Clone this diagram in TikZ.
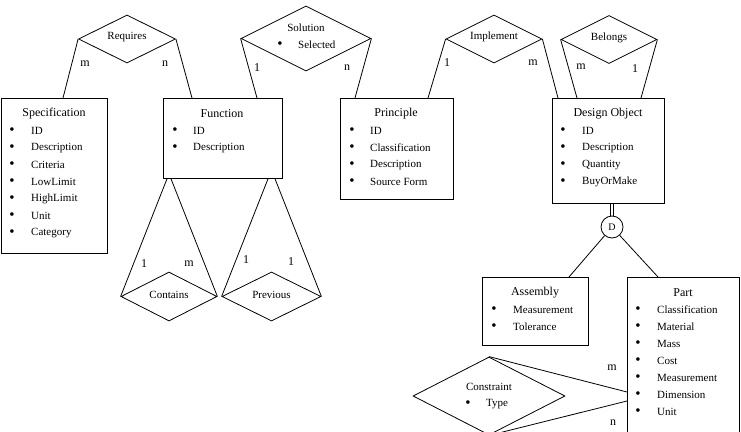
\documentclass[tikz,border=0pt]{standalone}
\usepackage{fontspec}
\setmainfont{Liberation Serif}
\usetikzlibrary{shapes.geometric,calc}
\tikzset{
  ent/.style={draw, line width=0.8pt, rectangle, anchor=north west, inner sep=0pt},
  rel/.style={draw, line width=0.8pt, diamond, inner sep=0pt},
  conn/.style={line width=0.8pt},
  ttl/.style={inner sep=0pt, font=\fontsize{12}{14}\selectfont},
  attr/.style={inner sep=0pt, anchor=west, font=\fontsize{11}{13}\selectfont},
  bul/.style={inner sep=0pt, font=\fontsize{15}{15}\selectfont},
  rlab/.style={inner sep=0pt, font=\fontsize{11}{13}\selectfont},
  card/.style={inner sep=0pt, font=\fontsize{12}{14}\selectfont},
}
\newcommand\attrlist[5]{%
  \foreach \t [count=\i] in {#5} {
    \node[bul] (#1b\i) at (#2, #4+17*\i-17) {\textbullet};
    \node[attr] (#1t\i) at (#3, #4+17*\i-17) {\t};
  }}
\begin{document}
\begin{tikzpicture}[x=1pt,y=-1pt]
\useasboundingbox (0,0) rectangle (741,431);
% entities
\node[ent, minimum width=106pt, minimum height=155pt] (spec) at (1,98) {};
\node[ent, minimum width=119pt, minimum height=80pt] (func) at (163,98) {};
\node[ent, minimum width=113pt, minimum height=101pt] (princ) at (340,98) {};
\node[ent, minimum width=112pt, minimum height=105pt] (dobj) at (552,98) {};
\node[ent, minimum width=106pt, minimum height=68pt] (asm) at (482,277) {};
\node[ent, minimum width=112pt, minimum height=170pt] (part) at (627,277) {};
% titles and attributes
\node[ttl] (spect) at (54,114) {Specification};
\attrlist{spec}{12}{31}{131}{ID,Description,Criteria,LowLimit,HighLimit,Unit,Category}
\node[ttl] (funct) at (222,114) {Function};
\attrlist{func}{175}{193}{131}{ID,Description}
\node[ttl] (princt) at (396,114) {Principle};
\attrlist{princ}{352}{370}{131}{ID,Classification,Description,Source Form}
\node[ttl] (dobjt) at (608,114) {Design Object};
\attrlist{dobj}{563}{582}{131}{ID,Description,Quantity,BuyOrMake}
\node[ttl] (asmt) at (535,293) {Assembly};
\attrlist{asm}{494}{513}{310}{Measurement,Tolerance}
\node[ttl] (partt) at (683,293) {Part};
\attrlist{part}{638}{657}{310}{Classification,Material,Mass,Cost,Measurement,Dimension,Unit}
% relationships
\node[rel, minimum width=97pt, minimum height=48pt] (req) at (127,39) {};
\node[rlab] (reqt) at (127,37) {Requires};
\node[rel, minimum width=130pt, minimum height=65pt] (sol) at (306,38.5) {};
\node[rlab] (solt) at (306,28) {Solution};
\node[bul] (solb) at (280,45) {\textbullet};
\node[attr] (sols) at (298,45) {Selected};
\node[rel, minimum width=96pt, minimum height=48pt] (imp) at (494,39) {};
\node[rlab] (impt) at (494,37) {Implement};
\node[rel, minimum width=96pt, minimum height=48pt] (bel) at (609,39.5) {};
\node[rlab] (belt) at (609,38) {Belongs};
\node[rel, minimum width=96pt, minimum height=49pt] (cont) at (169,296.5) {};
\node[rlab] (contt) at (169,295) {Contains};
\node[rel, minimum width=99pt, minimum height=49pt] (prev) at (271.5,296.5) {};
\node[rlab] (prevt) at (271.5,295) {Previous};
\node[rel, minimum width=152pt, minimum height=78pt] (cons) at (489,396) {};
\node[rlab] (const) at (489,387) {Constraint};
\node[bul] (consb) at (468,404) {\textbullet};
\node[attr] (conss) at (486,404) {Type};
% disjoint circle
\node[draw, line width=0.8pt, circle, minimum size=22pt, inner sep=0pt, font=\fontsize{10}{12}\selectfont] (D) at (612,227) {D};
% connectors
\draw[conn] (req.west) -- ($(spec.north west)+(62,0)$);
\draw[conn] (req.east) -- ($(func.north west)+(29,0)$);
\draw[conn] (sol.west) -- ($(func.north west)+(94,0)$);
\draw[conn] (sol.east) -- ($(princ.north west)+(15,0)$);
\draw[conn] (imp.west) -- ($(princ.north west)+(88,0)$);
\draw[conn] (imp.east) -- ($(dobj.north west)+(6,0)$);
\draw[conn] (bel.west) -- ($(dobj.north west)+(25,0)$);
\draw[conn] (bel.east) -- ($(dobj.north west)+(89,0)$);
\draw[conn] (cont.west) -- ($(func.south west)+(4,0)$);
\draw[conn] (cont.east) -- ($(func.south west)+(8,0)$);
\draw[conn] (prev.west) -- ($(func.south west)+(105,0)$);
\draw[conn] (prev.east) -- ($(func.south west)+(112,0)$);
\draw[conn] ($(dobj.south west)+(58.8,0)$) -- ($(D.north)+(-1.2,0.1)$);
\draw[conn] ($(dobj.south west)+(61.2,0)$) -- ($(D.north)+(1.2,0.1)$);
\draw[conn] (D) -- ($(asm.north west)+(87,0)$);
\draw[conn] (D) -- ($(part.north west)+(31,0)$);
\draw[conn] (cons.north) -- ($(part.north west)+(0,115)$);
\draw[conn] (cons.south) -- ($(part.north west)+(0,124)$);
% cardinalities
\node[card] (c1) at (85,64) {m};
\node[card] (c2) at (165,64) {n};
\node[card] (c3) at (257,68) {1};
\node[card] (c4) at (347,68) {n};
\node[card] (c5) at (447,63) {1};
\node[card] (c6) at (533,63) {m};
\node[card] (c7) at (581,67) {m};
\node[card] (c8) at (635,69) {1};
\node[card] (c9) at (144,264) {1};
\node[card] (c10) at (189,264) {m};
\node[card] (c11) at (246,260) {1};
\node[card] (c12) at (291,262) {1};
\node[card] (c13) at (612,368) {m};
\node[card] (c14) at (613,423) {n};
\end{tikzpicture}
\end{document}
